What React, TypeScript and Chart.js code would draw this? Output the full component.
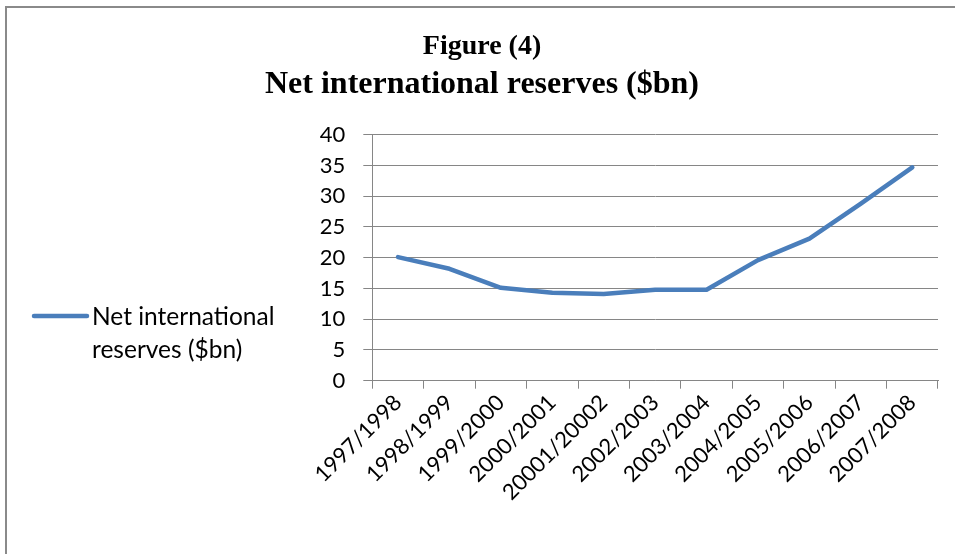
import React, { useEffect, useRef } from "react";
import { Chart, registerables } from "chart.js";

Chart.register(...registerables);

// ---- data ----
const categories = [
  "1997/1998",
  "1998/1999",
  "1999/2000",
  "2000/2001",
  "20001/20002",
  "2002/2003",
  "2003/2004",
  "2004/2005",
  "2005/2006",
  "2006/2007",
  "2007/2008",
];
const reserves = [20.1, 18.2, 15.1, 14.3, 14.1, 14.8, 14.8, 19.6, 23.1, 28.8, 34.7];
const yMin = 0;
const yMax = 40;
const yStep = 5;
const titleLine = "Figure (4)";
const subtitleLine = "Net international reserves ($bn)";
const seriesName = "Net international reserves ($bn)";
const legendLines = ["Net international", "reserves ($bn)"];

const LINE_COLOR = "#4a7ebb";
const GRID_COLOR = "#868686";
const SANS = "Lato, 'Noto Sans', sans-serif";
const SERIF = "'Liberation Serif', 'Times New Roman', serif";

const framePlugin = {
  id: "frame",
  beforeDraw(chart: any) {
    const ctx = chart.ctx;
    ctx.save();
    ctx.fillStyle = "#ffffff";
    ctx.fillRect(0, 0, chart.width, chart.height);
    ctx.strokeStyle = "#8a8a8a";
    ctx.lineWidth = 2;
    ctx.beginPath();
    ctx.moveTo(6, chart.height + 2);
    ctx.lineTo(6, 7);
    ctx.lineTo(chart.width + 2, 7);
    ctx.stroke();
    ctx.restore();
  },
};

const sideLegendPlugin = {
  id: "sideLegend",
  afterDraw(chart: any) {
    const ctx = chart.ctx;
    const ds = chart.data.datasets[0];
    ctx.save();
    ctx.strokeStyle = ds.borderColor;
    ctx.lineWidth = 4.5;
    ctx.lineCap = "round";
    ctx.beginPath();
    ctx.moveTo(34, 316);
    ctx.lineTo(87, 316);
    ctx.stroke();
    ctx.fillStyle = "#000000";
    ctx.font = `24.5px ${SANS}`;
    ctx.textAlign = "left";
    ctx.textBaseline = "alphabetic";
    legendLines.forEach((t, i) => {
      ctx.fillText(t, 92, 325 + i * 33);
    });
    ctx.restore();
  },
};

export default function App() {
  const ref = useRef<HTMLCanvasElement | null>(null);

  useEffect(() => {
    if (!ref.current) return;
    const chart = new Chart(ref.current, {
      type: "line",
      data: {
        labels: categories,
        datasets: [
          {
            label: seriesName,
            data: reserves,
            borderColor: LINE_COLOR,
            backgroundColor: LINE_COLOR,
            borderWidth: 4.5,
            pointRadius: 0,
            pointHoverRadius: 0,
            tension: 0,
            fill: false,
            borderCapStyle: "round",
            borderJoinStyle: "round",
          },
        ],
      },
      options: {
        responsive: false,
        animation: false,
        layout: { padding: { left: 26, right: 17, top: 0, bottom: 0 } },
        plugins: {
          legend: { display: false },
          tooltip: { enabled: false },
          title: {
            display: true,
            text: titleLine,
            color: "#000000",
            font: { family: SERIF, size: 28, weight: "bold", lineHeight: 1.2 },
            padding: { top: 30.2, bottom: 0 },
          },
          subtitle: {
            display: true,
            text: subtitleLine,
            color: "#000000",
            font: { family: SERIF, size: 32, weight: "bold", lineHeight: 1.2 },
            padding: { top: 2, bottom: 30.5 },
          },
        },
        scales: {
          x: {
            type: "category",
            offset: true,
            grid: {
              display: true,
              drawOnChartArea: false,
              drawTicks: true,
              tickLength: 8,
              color: GRID_COLOR,
              offset: true,
            },
            border: { display: true, color: GRID_COLOR, width: 1 },
            ticks: {
              autoSkip: false,
              minRotation: 45,
              maxRotation: 45,
              color: "#000000",
              padding: 1,
              font: { family: SANS, size: 22 },
            },
            afterFit(scale: any) {
              scale.height = 554 - 380.7;
            },
          },
          y: {
            min: yMin,
            max: yMax,
            ticks: {
              stepSize: yStep,
              color: "#000000",
              padding: 18,
              font: { family: SANS, size: 22 },
            },
            grid: { color: GRID_COLOR, tickLength: 9, lineWidth: 1 },
            border: { display: true, color: GRID_COLOR, width: 1 },
            afterFit(scale: any) {
              scale.width = 372.3 - 26;
            },
          },
        },
      },
      plugins: [framePlugin, sideLegendPlugin],
    });
    return () => chart.destroy();
  }, []);

  return (
    <div style={{ position: "absolute", left: 0, top: 0, width: 955, height: 554, overflow: "hidden" }}>
      <canvas ref={ref} width={955} height={554} style={{ display: "block" }} />
    </div>
  );
}
